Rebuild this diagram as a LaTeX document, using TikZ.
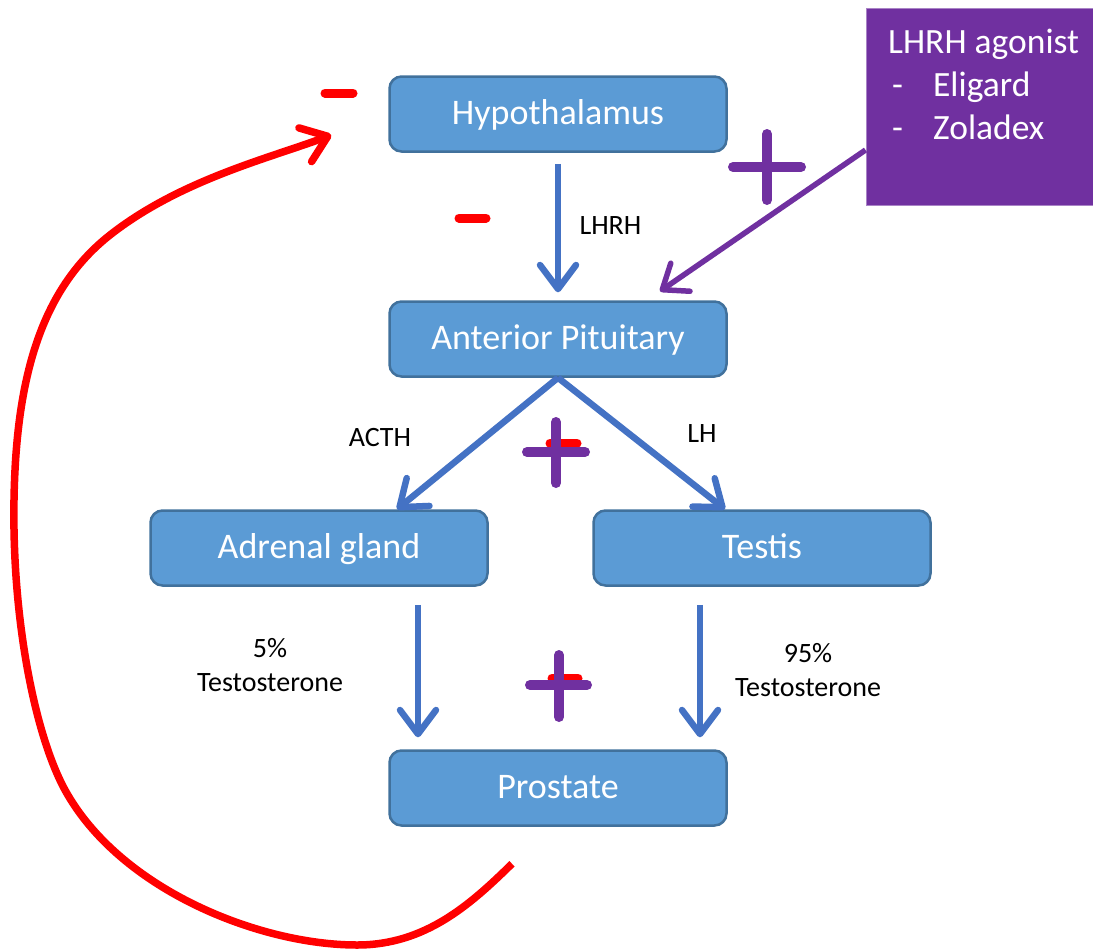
\documentclass[tikz,border=0pt]{standalone}
\usepackage{fontspec}
\setmainfont{Carlito}
\usetikzlibrary{arrows.meta}
\definecolor{boxblue}{HTML}{5B9BD5}
\definecolor{boxedge}{HTML}{41719C}
\definecolor{arrowblue}{HTML}{4472C4}
\definecolor{agonist}{HTML}{7030A0}
\definecolor{feedback}{HTML}{FF0000}
\begin{document}
\begin{tikzpicture}[x=1pt,y=-1pt,
    organ/.style={draw=boxedge,line width=2.5pt,fill=boxblue,rounded corners=12pt,
      minimum width=337pt,minimum height=75pt,text=white,text height=24pt,text depth=4pt,
      font=\fontsize{36}{40}\selectfont},
    flow/.style={draw=arrowblue,line width=6.5pt,
      -{Straight Barb[length=24pt,width=36pt,round]}},
    lbl/.style={font=\fontsize{28}{34}\selectfont,align=center},
    plussign/.style={draw=agonist,line width=10pt,line cap=round},
    minussign/.style={draw=feedback,line width=9pt,line cap=round}]
  \useasboundingbox (0,0) rectangle (1093,951);
  % organs
  \node[organ] (H) at (558,114) {Hypothalamus};
  \node[organ] (A) at (558,339) {Anterior Pituitary};
  \node[organ] (G) at (319,548) {Adrenal gland};
  \node[organ] (T) at (762,548) {Testis};
  \node[organ] (P) at (558,788) {Prostate};
  % drug box
  \node[fill=agonist,draw=agonist!60,line width=1pt,minimum width=227pt,minimum height=197pt] (L) at (979.5,106.5) {};
  \node[anchor=north west,inner sep=0pt,text=white,align=left,
    font=\fontsize{35.5}{43}\selectfont] (Ltxt) at (888,29)
    {LHRH agonist\\\hspace{4pt}\makebox[41pt][l]{-}Eligard\\\hspace{4pt}\makebox[41pt][l]{-}Zoladex};
  % hormone flow
  \draw[flow,shorten <=11pt,shorten >=8pt] (H) -- (A);
  \draw[flow] (A.south) -- ([xshift=78pt]G.north);
  \draw[flow] (A.south) -- ([xshift=-37pt]T.north);
  \draw[flow,shorten <=18pt,shorten >=12pt] ([xshift=99pt]G.south) -- ([xshift=99pt]G.south |- P.north);
  \draw[flow,shorten <=18pt,shorten >=12pt] ([xshift=-62pt]T.south) -- ([xshift=-62pt]T.south |- P.north);
  \node[lbl,anchor=west] (lhrh) at (576,226) {LHRH};
  \node[lbl] (acth) at (380,438) {ACTH};
  \node[lbl] (lh) at (702,434) {LH};
  \node[lbl] (adr) at (270,665) {5\%\\Testosterone};
  \node[lbl] (tes) at (808,670) {95\%\\Testosterone};
  % agonist arrow
  \draw[agonist,line width=5.5pt,-{Straight Barb[length=22pt,width=34pt,round]}]
    ([yshift=-43.5pt]L.west) -- ([xshift=102pt,yshift=9pt]A.north);
  % feedback loop
  \coordinate (fbstart) at ([xshift=-46pt,yshift=-37pt]P.south);
  \coordinate (fbend) at ([xshift=-57pt,yshift=-21pt]H.west);
  \draw[feedback,line width=7.5pt,-{Straight Barb[length=24pt,width=36pt,round]}]
    (fbstart) .. controls (470,905) and (425,945) .. (357,945)
    .. controls (260,945) and (120,890) .. (65,790)
    .. controls (35,735) and (12,620) .. (14,500)
    .. controls (16,380) and (40,290) .. (110,235)
    .. controls (180,180) and (270,158) .. (fbend);
  % signs
  \draw[minussign] (325,93) -- (353,93);
  \draw[minussign] (459,218) -- (486,218);
  \draw[plussign] (733,167) -- (801,167);
  \draw[plussign] (767,134) -- (767,200);
  \draw[minussign] (550,443) -- (577,443);
  \draw[plussign] (527,452) -- (585,452);
  \draw[plussign] (556,422) -- (556,483);
  \draw[minussign] (552,678) -- (578,678);
  \draw[plussign] (530,685) -- (587,685);
  \draw[plussign] (559,655) -- (559,717);
\end{tikzpicture}
\end{document}
